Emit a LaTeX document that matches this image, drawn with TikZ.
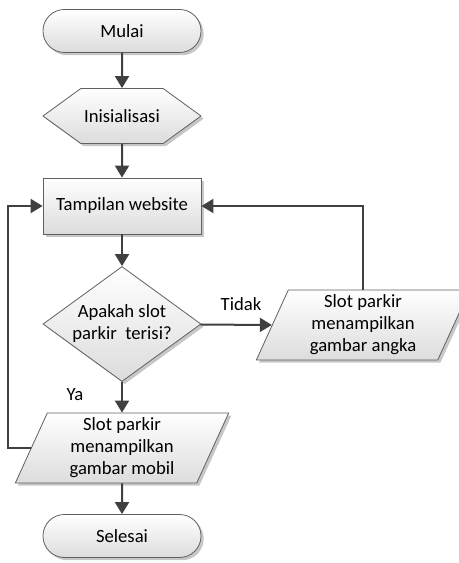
\documentclass[tikz,border=0pt]{standalone}
\usepackage{fontspec}
\setmainfont{Carlito}
\usetikzlibrary{shapes.geometric,shapes.symbols,shadows,arrows.meta}
\definecolor{lineclr}{RGB}{64,64,64}
\definecolor{edgeclr}{RGB}{96,96,96}
\definecolor{fillbot}{RGB}{220,220,220}
\tikzset{
  box/.style={draw=edgeclr, line width=0.6pt, top color=white, bottom color=fillbot,
    drop shadow={shadow xshift=2pt, shadow yshift=-2pt, fill=black!22, opacity=1},
    align=center, font=\fontsize{14}{16.5}\selectfont, inner sep=2pt},
  terminal/.style={box, rectangle, rounded corners=16pt, minimum width=118.5pt, minimum height=32.25pt},
  prep/.style={box, signal, signal to=east and west, signal pointer angle=72,
    minimum width=118.5pt, minimum height=41.25pt},
  process/.style={box, rectangle, minimum width=118.5pt, minimum height=42pt},
  decision/.style={box, diamond, aspect=1.37, inner sep=0pt, minimum width=118.5pt, minimum height=86.25pt},
  io/.style={box, trapezium, trapezium left angle=64, trapezium right angle=116,
    trapezium stretches body, minimum width=160pt, minimum height=52.5pt},
  arr/.style={draw=lineclr, line width=1.5pt, -{Triangle[length=9pt,width=10.5pt]}},
  lbl/.style={font=\fontsize{14}{16.5}\selectfont}
}
\begin{document}
\begin{tikzpicture}[x=0.75pt,y=-0.75pt]
\useasboundingbox (0,0) rectangle (459,563);

\node[terminal] (mulai) at (122,31) {Mulai};
\node[prep] (init) at (122,116) {Inisialisasi};
\node[process] (tampil) at (122,206) {Tampilan website};
\node[decision] (cek) at (122,324) {Apakah slot\\parkir~ terisi?};
\node[io] (angka) at (363,325) {Slot parkir\\menampilkan\\gambar angka};
\node[io] (mobil) at (122,448) {Slot parkir\\menampilkan\\gambar mobil};
\node[terminal] (selesai) at (122,536) {Selesai};

\node[lbl] (tidak) at (241,304) {Tidak};
\node[lbl] (ya) at (75,395) {Ya};

\draw[arr] (mulai) -- (init);
\draw[arr] (init) -- (tampil);
\draw[arr] (tampil) -- (cek);
\draw[arr] (cek) -- (angka.left side);
\draw[arr] (cek) -- (mobil);
\draw[arr] (mobil) -- (selesai);
\draw[arr] (angka.north) |- (tampil.east);
\draw[arr] (mobil.left side) -- ++(-23,0) |- (tampil.west);
\end{tikzpicture}
\end{document}
